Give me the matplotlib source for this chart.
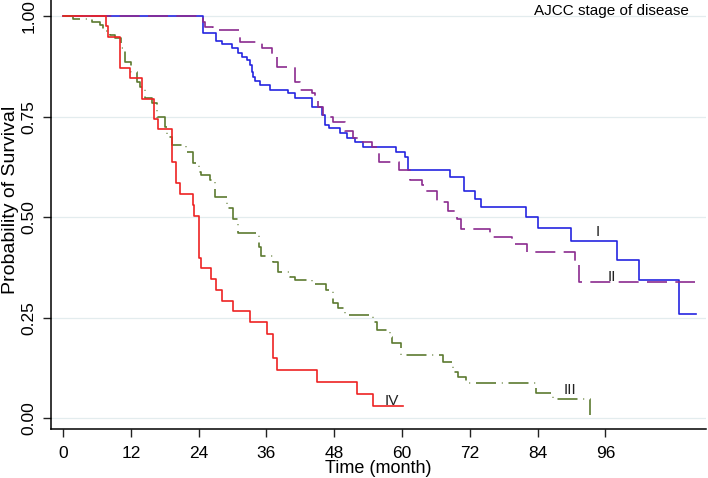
import matplotlib
matplotlib.use("Agg")
import matplotlib.pyplot as plt

plt.rcParams["font.family"] = ["Liberation Sans", "DejaVu Sans"]

# Kaplan-Meier step curves (month, survival)
T_I = [0, 24.8, 27.1, 28.1, 29.9, 31.0, 31.6, 32.5, 33.0, 33.4, 33.7, 34.0, 34.9,
       36.6, 39.9, 41.1, 44.0, 45.9, 46.4, 47.0, 49.0, 50.2, 51.7, 53.1, 59.0,
       60.5, 61.0, 68.5, 70.9, 72.9, 74.0, 81.9, 84.0, 89.9, 98.0, 102.0, 109.1, 112.0]
S_I = [1.0, 0.959, 0.939, 0.931, 0.920, 0.908, 0.899, 0.891, 0.879, 0.862, 0.850, 0.840, 0.829,
       0.817, 0.808, 0.796, 0.775, 0.754, 0.730, 0.721, 0.709, 0.697, 0.688, 0.676, 0.663,
       0.651, 0.618, 0.601, 0.565, 0.546, 0.526, 0.501, 0.473, 0.442, 0.394, 0.344, 0.259, 0.259]

T_II = [0, 24.7, 25.2, 26.5, 31.3, 35.2, 36.9, 37.9, 41.1, 41.9, 44.0, 44.6, 45.2, 46.1,
        47.8, 49.9, 51.4, 52.5, 54.6, 55.9, 59.5, 61.4, 63.5, 64.1, 66.2, 68.2, 69.8,
        70.5, 75.5, 79.4, 82.1, 90.6, 91.4, 111.9]
S_II = [1.0, 0.985, 0.974, 0.965, 0.937, 0.920, 0.906, 0.875, 0.837, 0.817, 0.810, 0.796, 0.775, 0.750,
        0.736, 0.715, 0.697, 0.688, 0.676, 0.638, 0.617, 0.593, 0.580, 0.566, 0.539, 0.516, 0.495,
        0.470, 0.452, 0.434, 0.413, 0.386, 0.340, 0.340]

T_III = [0, 1.8, 5.1, 6.5, 7.0, 8.3, 9.2, 10.2, 11.0, 12.0, 13.0, 13.6, 14.5, 15.7, 16.6,
         18.1, 18.4, 19.2, 21.8, 23.0, 24.0, 24.5, 26.0, 26.9, 29.0, 30.1, 31.0, 34.6, 35.0,
         37.2, 38.0, 40.2, 41.1, 44.0, 46.5, 47.8, 48.7, 49.9, 54.9, 55.5, 57.9, 58.2, 59.9,
         67.3, 69.1, 70.0, 71.3, 83.8, 86.8, 93.3]
S_III = [1.0, 0.994, 0.985, 0.978, 0.964, 0.953, 0.945, 0.922, 0.887, 0.862, 0.837, 0.825, 0.796, 0.784, 0.750,
         0.725, 0.700, 0.680, 0.663, 0.634, 0.613, 0.605, 0.593, 0.551, 0.522, 0.497, 0.462, 0.427, 0.404,
         0.390, 0.365, 0.352, 0.344, 0.334, 0.319, 0.286, 0.274, 0.257, 0.240, 0.221, 0.203, 0.188, 0.157,
         0.141, 0.116, 0.103, 0.089, 0.062, 0.047, 0.008]

T_IV = [0, 7.6, 8.0, 10.1, 11.9, 14.0, 16.1, 16.8, 19.2, 19.9, 20.7, 23.0, 23.2, 24.1, 24.4,
        26.1, 27.1, 28.1, 30.0, 33.0, 36.1, 37.1, 37.9, 45.0, 52.0, 54.9, 60.1]
S_IV = [1.0, 0.976, 0.949, 0.872, 0.847, 0.795, 0.745, 0.720, 0.638, 0.586, 0.558, 0.531, 0.503, 0.400, 0.373,
        0.346, 0.319, 0.293, 0.267, 0.240, 0.209, 0.151, 0.120, 0.090, 0.060, 0.031, 0.031]

STAGES = ["I", "II", "III", "IV"]
# label positions (month, survival)
LABEL_X = [94.6, 97.1, 89.7, 58.2]
LABEL_Y = [0.463, 0.352, 0.070, 0.044]

X_TICKS = [0, 12, 24, 36, 48, 60, 72, 84, 96]
Y_TICKS = [0.0, 0.25, 0.5, 0.75, 1.0]

fig = plt.figure(figsize=(7.08, 4.78), dpi=100)
ax = fig.add_axes([0.0716, 0.102, 0.9254, 0.898])

for y in Y_TICKS:
    ax.axhline(y, color="#e3ecee", lw=0.9, zorder=0)

curves = [(T_I, S_I, "#2525e0", "-"),
          (T_II, S_II, "#8b2b8f", (0, (12, 5))),
          (T_III, S_III, "#5c7a30", (0, (12, 3.5, 0.5, 3.5))),
          (T_IV, S_IV, "#ee2222", "-")]
for (t, s, c, ls) in curves:
    ax.step(t, s, where="post", color=c, ls=ls, lw=1.2)

for name, lx, ly in zip(STAGES, LABEL_X, LABEL_Y):
    ax.text(lx, ly, name, fontsize=11, ha="center", va="center", color="#222222")

ax.set_xlim(-2.2, 113.8)
ax.set_ylim(-0.027, 1.0405)
ax.set_xticks(X_TICKS)
ax.set_yticks(Y_TICKS)
ax.set_yticklabels([f"{v:.2f}" for v in Y_TICKS], rotation=90, va="center")
ax.tick_params(labelsize=12.5, length=6, width=1, color="#222222", pad=4)
ax.tick_params(axis="x", pad=6)
ax.spines["top"].set_visible(False)
ax.spines["right"].set_visible(False)
ax.spines["left"].set_linewidth(1.1)
ax.spines["bottom"].set_linewidth(1.1)

ax.set_xlabel("Time (month)", fontsize=13, labelpad=-1)
ax.set_ylabel("Probability of Survival", fontsize=14)
ax.yaxis.set_label_coords(-0.049, 0.534)
fig.text(0.864, 0.976, "AJCC stage of disease", fontsize=11, ha="center", va="center")

fig.savefig("out.png", dpi=100)
